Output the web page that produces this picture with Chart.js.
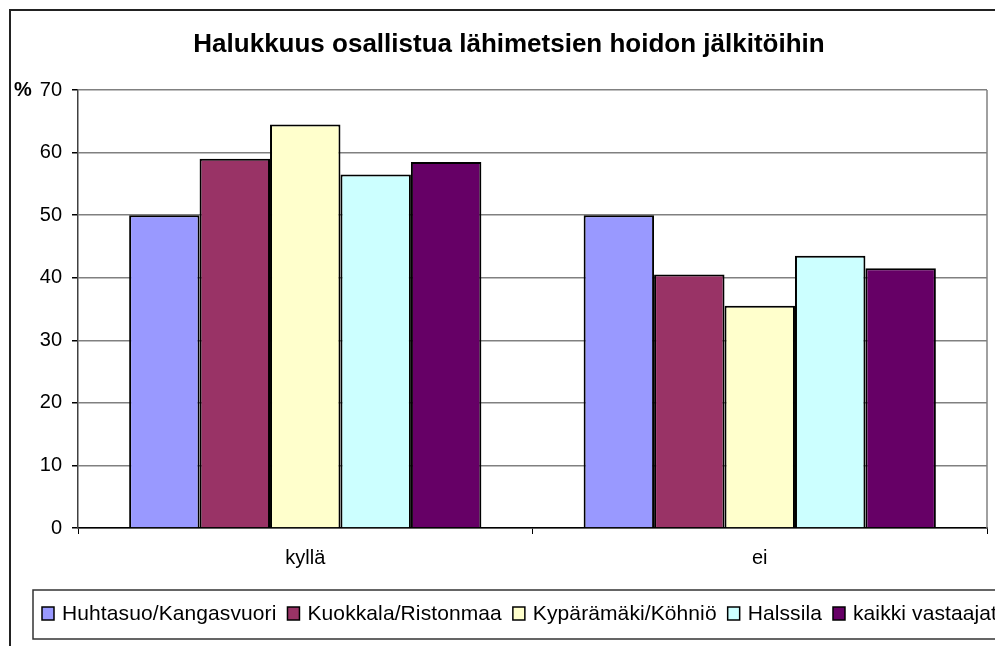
<!DOCTYPE html>
<html>
<head>
<meta charset="utf-8">
<script src="https://cdn.jsdelivr.net/npm/chart.js@4/dist/chart.umd.min.js"></script>
<style>
  html, body { margin: 0; padding: 0; background: #fff; }
  #wrap { width: 995px; height: 646px; }
</style>
</head>
<body>
<div id="wrap"><canvas id="chart" width="995" height="646"></canvas></div>
<script>
'use strict'

var chartTitle = 'Halukkuus osallistua lähimetsien hoidon jälkitöihin';
var categories = ['kyllä', 'ei'];
var seriesNames = ['Huhtasuo/Kangasvuori', 'Kuokkala/Ristonmaa', 'Kypärämäki/Köhniö', 'Halssila', 'kaikki vastaajat'];
var huhtasuo = [50, 50];
var kuokkala = [59, 40.5];
var kyparamaki = [64.5, 35.5];
var halssila = [56.5, 43.5];
var kaikki = [58.5, 41.5];
var seriesColors = ['#9999FF', '#993366', '#FFFFCC', '#CCFFFF', '#660066'];
var yTicks = [0, 10, 20, 30, 40, 50, 60, 70];

var FONT = 'Liberation Sans, Arial, sans-serif';

// otsikko, kehys, prosenttimerkki ja selite piirretään itse
var decorPlugin = {
	id: 'decor',
	afterDraw: function (chart) {
		var ctx = chart.ctx,
			area = chart.chartArea;
		ctx.save();
		// ulkokehys
		ctx.strokeStyle = '#222';
		ctx.lineWidth = 2;
		ctx.strokeRect(10, 10, 1100, 800);
		// kuva-alueen oikea reuna
		ctx.strokeStyle = '#808080';
		ctx.lineWidth = 1.5;
		ctx.beginPath();
		ctx.moveTo(area.right, area.top);
		ctx.lineTo(area.right, area.bottom);
		ctx.stroke();
		// otsikko
		ctx.fillStyle = '#000';
		ctx.textAlign = 'center';
		ctx.textBaseline = 'alphabetic';
		ctx.font = 'bold 26px ' + FONT;
		ctx.fillText(chartTitle, 509, 52);
		// % merkki
		ctx.font = 'bold 20px ' + FONT;
		ctx.textBaseline = 'middle';
		ctx.textAlign = 'left';
		ctx.fillText('%', 14, area.top);
		// selite
		ctx.strokeStyle = '#333';
		ctx.lineWidth = 1.5;
		ctx.strokeRect(33, 590, 1000, 49);
		ctx.font = '21px ' + FONT;
		ctx.textBaseline = 'alphabetic';
		if ('letterSpacing' in ctx) ctx.letterSpacing = '0.1px';
		var x = 42;
		chart.data.datasets.forEach(function (ds) {
			ctx.fillStyle = ds.backgroundColor;
			ctx.fillRect(x, 607, 12, 13);
			ctx.strokeStyle = '#000';
			ctx.lineWidth = 1.5;
			ctx.strokeRect(x, 607, 12, 13);
			ctx.fillStyle = '#000';
			ctx.fillText(ds.label, x + 20, 620);
			x += 20 + ctx.measureText(ds.label).width + 11;
		});
		ctx.restore();
	}
};

var seriesData = [huhtasuo, kuokkala, kyparamaki, halssila, kaikki];

new Chart(document.getElementById('chart'), {
	type: 'bar',
	data: {
		labels: categories,
		datasets: seriesNames.map(function (name, i) {
			return {
				label: name,
				data: seriesData[i],
				backgroundColor: seriesColors[i],
				borderColor: '#000',
				borderWidth: 2,
				barPercentage: 1,
				categoryPercentage: 0.775
			};
		})
	},
	options: {
		responsive: false,
		animation: false,
		layout: { padding: { left: 0, right: 8, top: 90, bottom: 62 } },
		plugins: {
			legend: { display: false },
			tooltip: { enabled: false },
			title: { display: false }
		},
		scales: {
			x: {
				grid: { display: true, drawOnChartArea: false, drawTicks: true, tickLength: 6, color: '#000', offset: true },
				border: { display: true, color: '#000', width: 1.5 },
				ticks: { color: '#000', font: { family: FONT, size: 20 }, padding: 12 },
				afterFit: function (scale) { scale.height = 56; }
			},
			y: {
				min: 0,
				max: 70,
				afterBuildTicks: function (scale) {
					scale.ticks = yTicks.map(function (v) { return { value: v }; });
				},
				grid: { color: '#808080', lineWidth: 1.5, tickLength: 6, tickColor: '#000' },
				border: { display: true, color: '#404040', width: 1.5 },
				ticks: { color: '#000', font: { family: FONT, size: 20 }, padding: 10 },
				afterFit: function (scale) { scale.width = 78; }
			}
		}
	},
	plugins: [decorPlugin]
});
</script>
</body>
</html>
